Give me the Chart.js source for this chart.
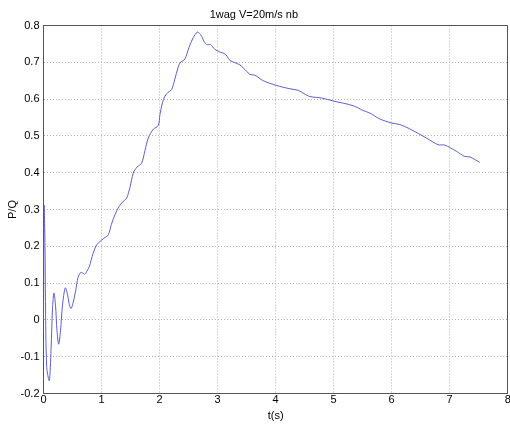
<!DOCTYPE html>
<html><head><meta charset="utf-8">
<script src="https://cdn.jsdelivr.net/npm/chart.js@4/dist/chart.umd.min.js"></script>
<style>html,body{margin:0;padding:0;background:#fff;overflow:hidden}canvas{display:block}</style>
</head><body>
<canvas id="c" width="510" height="426"></canvas>
<script>
const titleText = '1wag V=20m/s nb';
const xLabel = 't(s)';
const yLabel = 'P/Q';
const tValues = [0, 0.01, 0.026, 0.034, 0.055, 0.1, 0.13, 0.155, 0.18, 0.207, 0.233, 0.262, 0.293, 0.327, 0.375, 0.413, 0.44, 0.474, 0.508, 0.555, 0.594, 0.64, 0.68, 0.715, 0.75, 0.79, 0.853, 0.916, 0.973, 1.042, 1.116, 1.171, 1.232, 1.3, 1.375, 1.433, 1.49, 1.547, 1.61, 1.692, 1.748, 1.805, 1.891, 1.978, 2.007, 2.05, 2.093, 2.144, 2.208, 2.265, 2.317, 2.351, 2.437, 2.506, 2.58, 2.649, 2.687, 2.725, 2.765, 2.811, 2.88, 2.954, 3.04, 3.126, 3.161, 3.213, 3.299, 3.373, 3.442, 3.506, 3.557, 3.643, 3.786, 4.017, 4.246, 4.389, 4.488, 4.591, 4.792, 4.992, 5.337, 5.509, 5.624, 5.797, 5.998, 6.141, 6.313, 6.601, 6.801, 6.916, 7.118, 7.261, 7.347, 7.519];
const pqValues = [0, 0.31, 0.2, 0.05, -0.127, -0.165, -0.08, 0.03, 0.073, 0.04, -0.03, -0.066, -0.03, 0.04, 0.087, 0.07, 0.045, 0.031, 0.045, 0.08, 0.115, 0.129, 0.127, 0.124, 0.133, 0.145, 0.18, 0.204, 0.213, 0.222, 0.231, 0.26, 0.286, 0.308, 0.322, 0.331, 0.36, 0.399, 0.415, 0.426, 0.46, 0.494, 0.518, 0.528, 0.558, 0.59, 0.608, 0.618, 0.626, 0.655, 0.685, 0.698, 0.709, 0.74, 0.767, 0.782, 0.779, 0.771, 0.757, 0.748, 0.748, 0.735, 0.728, 0.723, 0.717, 0.705, 0.699, 0.694, 0.685, 0.675, 0.667, 0.665, 0.65, 0.637, 0.628, 0.624, 0.615, 0.607, 0.603, 0.595, 0.582, 0.569, 0.562, 0.546, 0.535, 0.531, 0.519, 0.494, 0.476, 0.475, 0.458, 0.444, 0.443, 0.428];
const xTickValues = [0, 1, 2, 3, 4, 5, 6, 7, 8];
const xTickLabels = ['0', '1', '2', '3', '4', '5', '6', '7', '8'];
const yTickValues = [-0.2, -0.1, 0, 0.1, 0.2, 0.3, 0.4, 0.5, 0.6, 0.7, 0.8];
const yTickLabels = ['-0.2', '-0.1', '0', '0.1', '0.2', '0.3', '0.4', '0.5', '0.6', '0.7', '0.8'];

const FONT = 'Liberation Sans, Arial, Helvetica, sans-serif';
const axisColor = '#555555';
const gridColor = '#b0b0b0';
const xMax = xTickValues[xTickValues.length - 1];
const yMax = yTickValues[yTickValues.length - 1];
const isMax = (c, m) => c && c.tick && Math.abs(c.tick.value - m) < 1e-9;

const points = tValues.map((t, i) => ({x: t, y: pqValues[i]}));

new Chart(document.getElementById('c'), {
  type: 'line',
  data: {
    datasets: [{
      data: points,
      borderColor: '#5e5ed2',
      borderWidth: 1,
      pointRadius: 0,
      fill: false,
      tension: 0.3
    }]
  },
  options: {
    responsive: false,
    animation: false,
    devicePixelRatio: 1,
    layout: {padding: {left: 0, right: 2.3, top: 0, bottom: 0}},
    plugins: {
      legend: {display: false},
      tooltip: {enabled: false},
      title: {
        display: true,
        text: titleText,
        color: '#000',
        font: {family: FONT, size: 11, weight: 'normal'},
        padding: {top: 8.4, bottom: 3.9}
      }
    },
    scales: {
      x: {
        type: 'linear',
        min: xTickValues[0],
        max: xMax,
        afterBuildTicks: s => { s.ticks = xTickValues.map(v => ({value: v})); },
        afterFit: s => { s.height = 32.5; s.paddingLeft = 0; s.paddingRight = 0; },
        ticks: {
          callback: (v, i) => xTickLabels[i],
          color: '#000',
          padding: 0,
          maxRotation: 0,
          font: {family: FONT, size: 11}
        },
        grid: {
          drawTicks: false,
          color: c => isMax(c, xMax) ? axisColor : gridColor,
          lineWidth: 1
        },
        border: {
          display: true,
          color: axisColor,
          width: 1,
          dash: c => isMax(c, xMax) ? [] : [1, 2]
        },
        title: {
          display: true,
          text: xLabel,
          color: '#000',
          font: {family: FONT, size: 11},
          padding: {top: 0, bottom: 3.8}
        }
      },
      y: {
        type: 'linear',
        min: yTickValues[0],
        max: yMax,
        afterBuildTicks: s => { s.ticks = yTickValues.map(v => ({value: v})); },
        afterFit: s => { s.width = 43.5; s.paddingTop = 0; s.paddingBottom = 0; },
        ticks: {
          callback: (v, i) => yTickLabels[i],
          color: '#000',
          padding: 4,
          font: {family: FONT, size: 11}
        },
        grid: {
          drawTicks: false,
          color: c => isMax(c, yMax) ? axisColor : gridColor,
          lineWidth: 1
        },
        border: {
          display: true,
          color: axisColor,
          width: 1,
          dash: c => isMax(c, yMax) ? [] : [1, 2]
        },
        title: {
          display: true,
          text: yLabel,
          color: '#000',
          font: {family: FONT, size: 11},
          padding: {top: 5.9, bottom: 0}
        }
      }
    }
  }
});
</script>
</body></html>
